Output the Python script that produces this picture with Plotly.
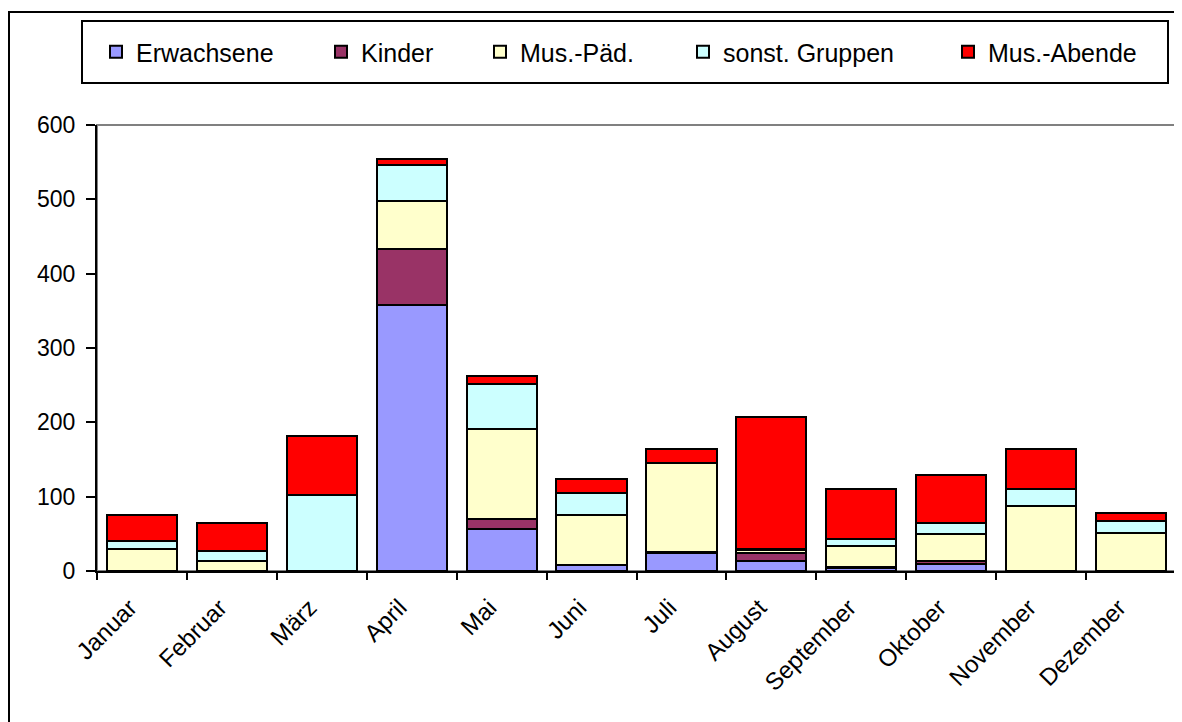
import plotly.graph_objects as go

months = ["Januar", "Februar", "März", "April", "Mai", "Juni", "Juli",
          "August", "September", "Oktober", "November", "Dezember"]
erwachsene = [0, 0, 0, 358, 56, 8, 24, 13, 4, 9, 0, 0]
kinder = [0, 0, 0, 75, 14, 0, 2, 11, 1, 4, 0, 0]
mus_paed = [30, 13, 0, 65, 121, 67, 119, 4, 29, 37, 88, 51]
sonst_gruppen = [11, 14, 102, 48, 60, 30, 0, 1, 9, 14, 22, 16]
mus_abende = [34, 38, 79, 8, 11, 19, 19, 178, 67, 65, 54, 11]

series = [
    ("Erwachsene", erwachsene, "#9999FF", "legend"),
    ("Kinder", kinder, "#993366", "legend2"),
    ("Mus.-Päd.", mus_paed, "#FFFFCC", "legend3"),
    ("sonst. Gruppen", sonst_gruppen, "#CCFFFF", "legend4"),
    ("Mus.-Abende", mus_abende, "#FF0000", "legend5"),
]

FONT = "Liberation Sans, Arial, sans-serif"
OFF = 8  # default page body margin
W, H = 1182 - OFF, 722 - OFF
# plot area in page pixels: x 97..1176, y 125..571
PL, PR, PT, PB = 97, 1176, 125, 571
L = PL - OFF
T = PT - OFF
R = W - (PR - OFF)
B = H - (PB - OFF)
PW, PH = PR - PL, PB - PT


def px_x(p):
    return (p - PL) / PW


def px_y(p):
    return (PB - p) / PH


fig = go.Figure()
for name, vals, col, lg in series:
    fig.add_trace(go.Bar(
        x=months, y=vals, name=name, legend=lg,
        marker=dict(color=col, line=dict(color="black", width=2)),
    ))

legend_text_starts = [138, 363, 522, 725, 990]
legend_common = dict(
    bgcolor="rgba(0,0,0,0)", borderwidth=0,
    font=dict(family=FONT, size=25, color="black"),
    xanchor="left", yanchor="middle", y=px_y(52),
    orientation="h", itemclick=False,
)
layout_legends = {}
for i, ts in enumerate(legend_text_starts):
    key = "legend" if i == 0 else f"legend{i+1}"
    layout_legends[key] = dict(legend_common, x=px_x(ts - 42))

fig.update_layout(
    width=W, height=H,
    margin=dict(l=L, r=R, t=T, b=B),
    paper_bgcolor="white", plot_bgcolor="white",
    barmode="stack", bargap=0.22,
    font=dict(family=FONT, size=22, color="black"),
    showlegend=True,
    **layout_legends,
    xaxis=dict(
        tickangle=-45, showline=True, linecolor="black", linewidth=2,
        ticks="outside", ticklen=7, tickwidth=2, tickcolor="black",
        tickson="boundaries", showgrid=False, zeroline=False,
        ticklabelshift=-12, ticklabelstandoff=11,
        tickfont=dict(family=FONT, size=24, color="black"),
    ),
    yaxis=dict(
        range=[0, 600], tickvals=[0, 100, 200, 300, 400, 500, 600],
        showline=True, linecolor="black", linewidth=2,
        ticks="outside", ticklen=9, tickwidth=2, tickcolor="black",
        showgrid=False, zeroline=False, ticklabelstandoff=6,
        tickfont=dict(family=FONT, size=23, color="black"),
    ),
    shapes=[
        # plot area border (grey)
        dict(type="rect", xref="paper", yref="paper", x0=0, y0=0, x1=1, y1=1,
             line=dict(color="#808080", width=2), layer="below"),
        # outer chart border
        dict(type="rect", xref="paper", yref="paper",
             x0=px_x(9), y0=px_y(740), x1=px_x(1200), y1=px_y(12),
             line=dict(color="black", width=2)),
        # legend box
        dict(type="rect", xref="paper", yref="paper",
             x0=px_x(82), y0=px_y(83), x1=px_x(1168), y1=px_y(21),
             line=dict(color="black", width=2)),
    ],
)

fig.write_html("out.html")
